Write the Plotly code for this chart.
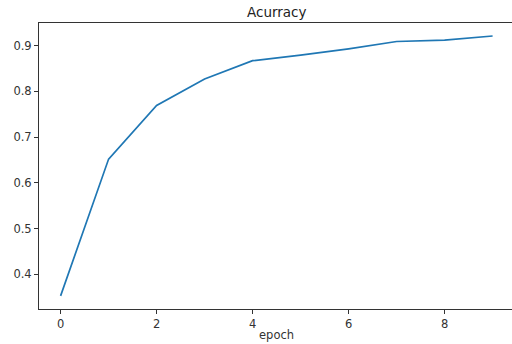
import plotly.graph_objects as go

epochs = [0, 1, 2, 3, 4, 5, 6, 7, 8, 9]
accuracy = [0.353, 0.652, 0.769, 0.827, 0.867, 0.879, 0.893, 0.909, 0.912, 0.921]
x_ticks = [0, 2, 4, 6, 8]
y_ticks = [0.4, 0.5, 0.6, 0.7, 0.8, 0.9]

fig = go.Figure()
fig.add_trace(go.Scatter(x=epochs, y=accuracy, mode="lines",
                         line=dict(color="#1f77b4", width=1.7), showlegend=False))

W, H = 512, 344
l, r, t, b = 39, 0, 23, 35
px_per_unit = 48.0
x0 = -0.45
x1 = x0 + (W - l - r) / px_per_unit
cx = (514.6 / 2 + l / 2 - l) / (W - l)

fig.update_layout(
    width=W, height=H,
    margin=dict(l=l, r=r, t=t, b=b, pad=0, autoexpand=False),
    paper_bgcolor="white", plot_bgcolor="white",
    font=dict(family="DejaVu Sans", size=11.5, color="#333"),
    xaxis=dict(range=[x0, x1], tickvals=x_ticks, ticktext=[str(v) for v in x_ticks],
               showgrid=False, zeroline=False, showline=True, mirror=True,
               linecolor="#333", linewidth=1, ticks="outside", ticklen=4,
               tickcolor="#333", automargin=False),
    yaxis=dict(range=[0.3243, 0.9494], tickvals=y_ticks,
               ticktext=[f"{v:.1f}" for v in y_ticks],
               showgrid=False, zeroline=False, showline=True, mirror=False,
               linecolor="#333", linewidth=1, ticks="outside", ticklen=4,
               tickcolor="#333", automargin=False),
    annotations=[
        dict(text="Acurracy", xref="paper", yref="paper", x=cx,
             y=1 + (23 - 12) / (H - t - b), xanchor="center", yanchor="middle",
             showarrow=False, font=dict(size=13.5, color="#222")),
        dict(text="epoch", xref="paper", yref="paper", x=cx,
             y=-(335 - 309) / (H - t - b), xanchor="center", yanchor="middle",
             showarrow=False, font=dict(size=11.5, color="#333")),
    ],
)

fig.write_html("out.html", config={"displayModeBar": False},
               post_script="document.body.style.margin='0';document.body.style.overflow='hidden';")
